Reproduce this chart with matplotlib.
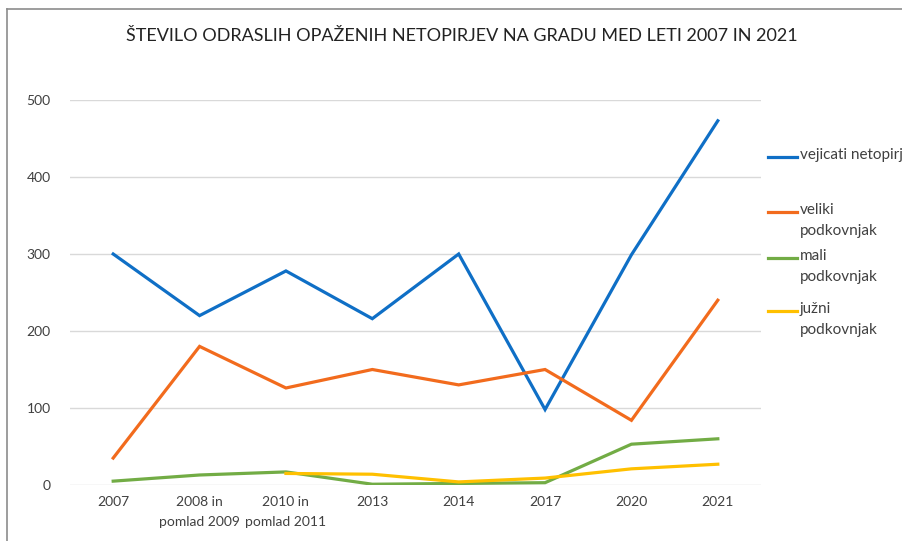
import matplotlib.pyplot as plt
from matplotlib.lines import Line2D

# --- data ---
categories = ["2007", "2008 in\npomlad 2009", "2010 in\npomlad 2011", "2013",
              "2014", "2017", "2020", "2021"]
vejicati = [300, 220, 278, 216, 300, 98, 299, 473]
veliki = [35, 180, 126, 150, 130, 150, 84, 240]
mali = [5, 13, 17, 1, 2, 3, 53, 60]
juzni = [None, None, 15, 14, 4, 9, 21, 27]

series_names = ["vejicati netopirji", "veliki\npodkovnjak", "mali\npodkovnjak",
                "južni\npodkovnjak"]
series_values = [vejicati, veliki, mali, juzni]
colors = ["#0F6FC6", "#F26B1D", "#72AC45", "#FFC000"]

plt.rcParams['font.family'] = ['Lato', 'DejaVu Sans']
text_color = "#404040"

fig = plt.figure(figsize=(9.03, 5.41), dpi=100)
ax = fig.add_axes([70 / 903, 1 - 485 / 541, (761 - 70) / 903, (485 - 100) / 541])

x = list(range(len(categories)))
lines = []
for name, vals, c in zip(series_names, series_values, colors):
    xs = [xi for xi, v in zip(x, vals) if v is not None]
    ys = [v for v in vals if v is not None]
    ln, = ax.plot(xs, ys, color=c, lw=2.3, solid_joinstyle='miter', zorder=3)
    lines.append(ln)

ax.set_xlim(-0.5, len(categories) - 0.5)
ax.set_ylim(0, 500)
ax.set_yticks(range(0, 501, 100))
ax.set_xticks(x)
ax.set_xticklabels(categories, linespacing=1.75)
ax.tick_params(axis='both', length=0, labelsize=10, colors=text_color)
ax.tick_params(axis='y', pad=14)
ax.tick_params(axis='x', pad=8)
for lbl in ax.get_xticklabels():
    lbl.set_verticalalignment('top')
ax.grid(axis='y', color='#D9D9D9', lw=1)
ax.set_axisbelow(True)
for s in ax.spines.values():
    s.set_visible(False)

fig.text(462 / 903, 1 - 36 / 541,
         "ŠTEVILO ODRASLIH OPAŽENIH NETOPIRJEV NA GRADU MED LETI 2007 IN 2021",
         ha='center', va='center', fontsize=13, color='#222222')

# manual legend: handle next to first line of each label
legend_y = [157, 212, 258, 311]
for ln, name, yy in zip(lines, series_names, legend_y):
    fy = 1 - yy / 541
    fig.add_artist(Line2D([768 / 903, 797 / 903], [fy, fy], color=ln.get_color(), lw=2.3))
    fig.text(800 / 903, fy + 9 / 541, name, ha='left', va='top', fontsize=11,
             color=text_color, linespacing=1.6)

# frame lines at top and left of the screenshot
fig.add_artist(Line2D([7 / 903, 1], [1 - 9 / 541, 1 - 9 / 541], color='#8C8C8C', lw=1.2))
fig.add_artist(Line2D([7 / 903, 7 / 903], [0, 1 - 9 / 541], color='#8C8C8C', lw=1.2))

fig.savefig("out.png", dpi=100)
